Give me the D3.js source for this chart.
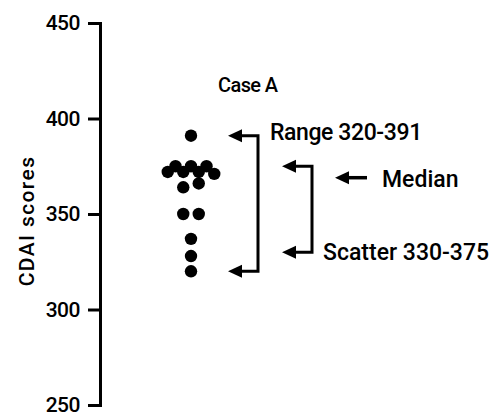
<!DOCTYPE html>
<html>
<head>
<meta charset="utf-8">
<script src="https://cdn.jsdelivr.net/npm/d3@7"></script>
<style>
  body { margin: 0; background: #fff; }
  svg { display: block; }
  text { font-family: Roboto, "DejaVu Sans", sans-serif; font-weight: 500; fill: #000; }
</style>
</head>
<body>
<svg id="chart" width="500" height="417"></svg>
<script>
const svg = d3.select('#chart');

// CDAI scores, with the lateral slot of each dot in the swarm
const scores = [391, 375, 375, 375, 372, 371, 372, 372, 366, 364, 350, 350, 337, 328, 320];
const slots  = [0,   -2,  0,   2,   -3,  3,   -1,  1,   1,   -1,  -1,  1,   0,   0,   0];
const yTicks = [250, 300, 350, 400, 450];
const caseLabel = 'Case A';
const rangeVals = [320, 391];
const scatterVals = [330, 375];
const medianVal = 369;

const y = d3.scaleLinear().domain([250, 450]).range([405, 23]);
const slot = d3.scaleLinear().domain([-4, 4]).range([160, 222]);

// y axis
const axis = svg.append('g')
    .attr('transform', 'translate(100,0)')
    .call(d3.axisLeft(y).tickValues(yTicks).tickSize(12).tickPadding(8));
axis.select('.domain').attr('stroke', '#000').attr('stroke-width', 3);
axis.selectAll('.tick line').attr('stroke', '#000').attr('stroke-width', 3);
axis.selectAll('.tick text')
    .style('font-family', 'Roboto, "DejaVu Sans", sans-serif')
    .style('font-weight', 500)
    .attr('font-size', 21)
    .attr('letter-spacing', -0.5)
    .attr('fill', '#000');

svg.append('text')
    .attr('transform', 'translate(34,221) rotate(-90)')
    .attr('text-anchor', 'middle')
    .attr('font-size', 21)
    .attr('letter-spacing', 1.4)
    .text('CDAI scores');

svg.append('text')
    .attr('x', 218).attr('y', 92)
    .attr('font-size', 20)
    .attr('letter-spacing', -0.6)
    .text(caseLabel);

// dots
svg.append('g').selectAll('circle')
    .data(scores)
    .join('circle')
    .attr('cx', (d, i) => slot(slots[i]))
    .attr('cy', d => y(d))
    .attr('r', 6.2)
    .attr('fill', '#000');

// left-pointing arrow ending at (x, yy)
function arrowHead (g, x, yy) {
    g.append('path')
        .attr('d', `M${x},${yy} L${x + 14},${yy - 6.5} L${x + 14},${yy + 6.5} Z`)
        .attr('fill', '#000');
}

function bracket (vals, xBar, xTip) {
    const g = svg.append('g');
    const y0 = y(vals[0]), y1 = y(vals[1]);
    g.append('path')
        .attr('d', `M${xTip + 10},${y1} H${xBar} V${y0} H${xTip + 10}`)
        .attr('fill', 'none')
        .attr('stroke', '#000')
        .attr('stroke-width', 3);
    arrowHead(g, xTip, y1);
    arrowHead(g, xTip, y0);
}

bracket(rangeVals, 258, 228);
bracket(scatterVals, 312, 282);

// median arrow
const mg = svg.append('g');
mg.append('line')
    .attr('x1', 345).attr('x2', 367)
    .attr('y1', y(medianVal)).attr('y2', y(medianVal))
    .attr('stroke', '#000').attr('stroke-width', 3.5);
arrowHead(mg, 335, y(medianVal));

svg.append('text')
    .attr('x', 270).attr('y', 140)
    .attr('font-size', 23)
    .attr('letter-spacing', -0.4)
    .text(`Range ${rangeVals[0]}-${rangeVals[1]}`);

svg.append('text')
    .attr('x', 382).attr('y', 187)
    .attr('font-size', 23)
    .text('Median');

svg.append('text')
    .attr('x', 323).attr('y', 260)
    .attr('font-size', 23)
    .text(`Scatter ${scatterVals[0]}-${scatterVals[1]}`);
</script>
</body>
</html>
